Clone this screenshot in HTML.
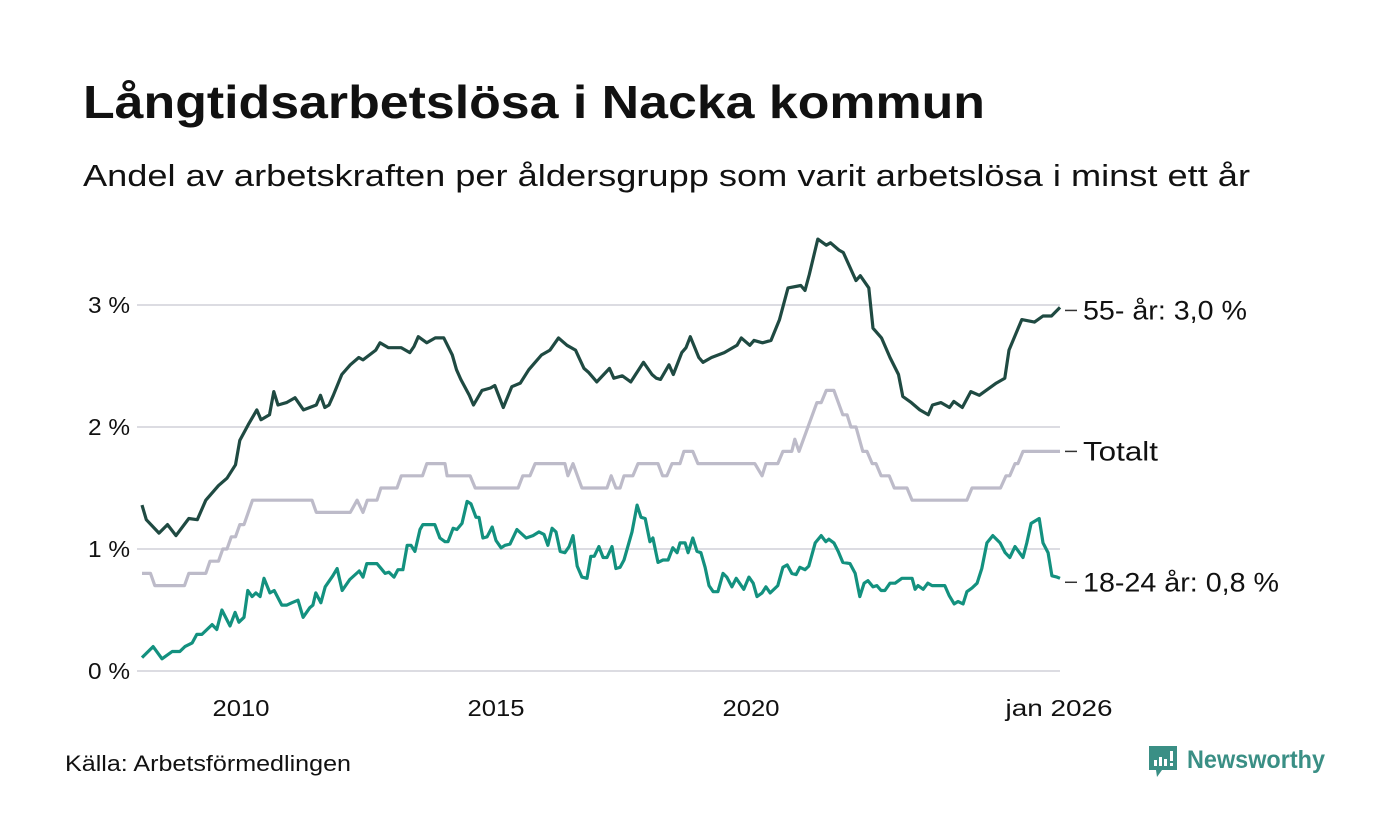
<!DOCTYPE html>
<html><head><meta charset="utf-8"><style>
html,body{margin:0;padding:0;background:#fff;}
svg{display:block;font-family:"Liberation Sans",sans-serif;}
</style></head><body>
<svg id="chart" width="1400" height="840" viewBox="0 0 1400 840">
<text x="83" y="118" font-size="46" font-weight="bold" fill="#111" textLength="902" lengthAdjust="spacingAndGlyphs">Långtidsarbetslösa i Nacka kommun</text>
<text x="83" y="186" font-size="31" fill="#111" textLength="1167" lengthAdjust="spacingAndGlyphs">Andel av arbetskraften per åldersgrupp som varit arbetslösa i minst ett år</text>
<g id="grid"></g>
<g id="yaxis"></g>
<g id="xaxis"></g>
<g id="series"></g>
<g id="labels"></g>
<text x="65" y="771" font-size="22" fill="#111" textLength="286" lengthAdjust="spacingAndGlyphs">Källa: Arbetsförmedlingen</text>
<g>
<path d="M1149 746 h28 v24 h-15 l-5 7 l-1 -7 h-7 z" fill="#3a8f85"/>
<rect x="1154" y="760" width="3" height="6" fill="#fff"/>
<rect x="1159" y="757" width="3" height="9" fill="#fff"/>
<rect x="1164" y="759" width="3" height="7" fill="#fff"/>
<rect x="1170" y="751" width="3" height="10" fill="#fff"/>
<rect x="1170" y="763" width="3" height="3" fill="#fff"/>
<text x="1187" y="768" font-size="25" font-weight="bold" fill="#3a8f85" textLength="138" lengthAdjust="spacingAndGlyphs">Newsworthy</text>
</g>
</svg>
<script>
const yTicks=[0,1,2,3];
const yTickLabels=["0 %","1 %","2 %","3 %"];
const xTickMonths=[24,84,144,216];
const xTickLabels=["2010","2015","2020","jan 2026"];
const m55=[0,1,4,6,8,11,13,15,18,20,22,23,25,27,28,30,31,32,34,36,38,41,42,43,44,45,47,49,51,52,55,56,58,61,63,64,65,67,69,71,73,74,75,77,78,80,82,83,85,87,89,91,92,94,96,98,100,102,104,105,107,110,111,113,115,118,120,121,122,124,125,127,128,129,131,132,134,137,140,141,143,144,146,148,150,152,155,156,157,159,161,162,164,165,168,169,171,172,174,176,178,179,181,183,185,186,188,190,191,193,195,197,201,203,204,207,210,212,214,216];
const v55=[1.36,1.24,1.13,1.20,1.11,1.25,1.24,1.40,1.52,1.58,1.69,1.89,2.02,2.14,2.06,2.10,2.29,2.18,2.20,2.24,2.14,2.18,2.26,2.16,2.18,2.26,2.43,2.51,2.57,2.55,2.63,2.69,2.65,2.65,2.61,2.66,2.74,2.69,2.73,2.73,2.59,2.47,2.39,2.26,2.18,2.30,2.32,2.34,2.16,2.33,2.36,2.47,2.51,2.59,2.63,2.73,2.67,2.63,2.48,2.45,2.37,2.48,2.40,2.42,2.37,2.53,2.43,2.40,2.39,2.51,2.43,2.61,2.65,2.74,2.57,2.53,2.57,2.61,2.67,2.73,2.67,2.71,2.69,2.71,2.88,3.14,3.16,3.12,3.25,3.54,3.49,3.51,3.45,3.43,3.20,3.24,3.14,2.81,2.73,2.57,2.43,2.25,2.20,2.14,2.10,2.18,2.20,2.16,2.21,2.16,2.29,2.26,2.36,2.40,2.63,2.88,2.86,2.91,2.91,2.98];
const mTot=[0,2,3,10,11,15,16,18,19,20,21,22,23,24,26,40,41,49,50.6,52,53,55.3,56.2,60,61,66,67,71.3,71.8,77.2,78.4,88.5,89.6,91.3,92.5,99.5,100.2,101.4,103.5,109.4,110.4,111.5,112.5,113.4,115.5,116.7,121.4,122.5,123.5,124.7,126.6,127.5,129.6,130.8,144.2,145.9,146.8,149.6,150.8,152.9,153.6,154.6,158.8,159.8,161,162.8,164.9,165.9,166.8,168,169.6,170.6,171.8,172.7,173.9,175.8,177,180,181.2,194.1,195.3,202,203.3,204.2,205.4,206.1,207.3,216];
const vTot=[0.8,0.8,0.7,0.7,0.8,0.8,0.9,0.9,1.0,1.0,1.1,1.1,1.2,1.2,1.4,1.4,1.3,1.3,1.4,1.3,1.4,1.4,1.5,1.5,1.6,1.6,1.7,1.7,1.6,1.6,1.5,1.5,1.6,1.6,1.7,1.7,1.6,1.7,1.5,1.5,1.6,1.5,1.5,1.6,1.6,1.7,1.7,1.6,1.6,1.7,1.7,1.8,1.8,1.7,1.7,1.6,1.7,1.7,1.8,1.8,1.9,1.8,2.2,2.2,2.3,2.3,2.1,2.1,2.0,2.0,1.8,1.8,1.7,1.7,1.6,1.6,1.5,1.5,1.4,1.4,1.5,1.5,1.6,1.6,1.7,1.7,1.8,1.8];
const m1824=[0,2.6,4.7,7.1,8.9,10.1,11.8,12.9,14.1,16.5,17.6,18.8,20.7,21.9,22.8,24,24.9,25.9,26.8,27.8,28.7,30.1,31.1,32.9,34.1,35.3,36.7,37.9,39.5,40.2,40.9,42.1,43.1,44.9,45.9,47.1,48.9,51.1,52,52.9,55.3,57.2,58.1,59.3,60.2,61.4,62.4,63.3,64.2,65.4,66.1,68.9,70.1,71.3,72,73.2,74.1,75.3,76.5,77.4,78.6,79.3,80.2,81.2,82.4,83.3,84.5,85.4,86.6,88.2,90.4,92,93.4,94.6,95.5,96.5,97.4,98.4,99.5,100.5,101.4,102.4,103.5,104.7,105.6,106.4,107.5,108.5,109.4,110.6,111.5,112.5,113.4,115.3,116.5,117.4,118.4,119.5,120.2,121.4,122.6,123.8,124.9,125.9,126.6,127.8,128.5,129.6,130.6,131.5,132.5,133.4,134.4,135.5,136.7,137.6,138.8,139.8,141.6,142.8,143.8,144.7,145.9,146.8,147.8,149.6,150.8,151.8,152.9,153.9,154.8,156,156.9,158.4,159.8,160.9,161.6,162.8,163.8,164.9,166.6,167.8,168.9,169.9,170.8,172,172.9,173.9,174.8,176,177.2,178.8,181.2,181.9,182.6,183.8,184.9,185.9,188.9,189.9,191.1,192,193.2,194.1,195.3,196.5,197.6,198.8,200.2,201.9,203.1,204.2,205.4,207.3,208.2,209.2,211.1,212,213.2,214.1,215.3,216];
const v1824=[0.11,0.20,0.10,0.16,0.16,0.20,0.23,0.30,0.30,0.38,0.34,0.50,0.37,0.48,0.40,0.44,0.66,0.61,0.64,0.61,0.76,0.64,0.66,0.54,0.54,0.56,0.58,0.44,0.52,0.54,0.64,0.56,0.69,0.78,0.84,0.66,0.75,0.82,0.77,0.88,0.88,0.80,0.81,0.77,0.83,0.83,1.03,1.03,0.98,1.16,1.20,1.20,1.09,1.06,1.06,1.17,1.16,1.21,1.39,1.37,1.26,1.26,1.09,1.10,1.18,1.07,1.01,1.03,1.04,1.16,1.09,1.11,1.14,1.12,1.03,1.17,1.14,0.98,0.97,1.02,1.11,0.86,0.77,0.76,0.94,0.94,1.02,0.93,0.93,1.02,0.84,0.85,0.91,1.14,1.36,1.26,1.25,1.06,1.09,0.89,0.91,0.91,1.01,0.97,1.05,1.05,0.97,1.09,0.98,0.97,0.85,0.70,0.65,0.65,0.80,0.77,0.69,0.76,0.67,0.77,0.72,0.61,0.64,0.69,0.64,0.70,0.85,0.87,0.80,0.79,0.85,0.83,0.86,1.05,1.11,1.06,1.08,1.05,0.98,0.89,0.88,0.80,0.61,0.72,0.74,0.69,0.70,0.66,0.66,0.72,0.72,0.76,0.76,0.67,0.70,0.67,0.72,0.70,0.70,0.62,0.55,0.57,0.55,0.65,0.68,0.72,0.84,1.05,1.11,1.05,0.97,0.93,1.02,0.93,1.05,1.21,1.25,1.05,0.97,0.78,0.77,0.76];
const seriesNames=["55- år: 3,0 %","Totalt","18-24 år: 0,8 %"];
const seriesLabelWidths=[164,75,196];

const NS="http://www.w3.org/2000/svg";
function xs(m){return 142+m*(918/216);}
function ys(v){return 671-v*122;}
function mk(tag,attrs,parent){const e=document.createElementNS(NS,tag);for(const k in attrs)e.setAttribute(k,attrs[k]);parent.appendChild(e);return e;}
const grid=document.getElementById('grid'),ya=document.getElementById('yaxis'),xa=document.getElementById('xaxis'),ser=document.getElementById('series'),lab=document.getElementById('labels');
yTicks.forEach((t,i)=>{
  const l=mk('line',{x1:137,x2:1060,y1:ys(t),y2:ys(t),stroke:'#dcdce2','stroke-width':2},grid);
  
  
  const tx=mk('text',{x:130,y:ys(t)+8,'font-size':23,fill:'#111','text-anchor':'end',textLength:42,lengthAdjust:'spacingAndGlyphs'},ya);
  tx.textContent=yTickLabels[i];
  
  
});
xTickMonths.forEach((m,i)=>{
  const w=i==3?107:57;
  const tx=mk('text',{x:xs(m)-(i==3?1:3),y:716,'font-size':23,fill:'#111','text-anchor':'middle',textLength:w,lengthAdjust:'spacingAndGlyphs'},xa);
  tx.textContent=xTickLabels[i];
  
  
});
function drawLine(ms,vs,color,name){
  const d=ms.map((m,i)=>(i?'L':'M')+xs(m).toFixed(1)+' '+ys(vs[i]).toFixed(1)).join(' ');
  const p=mk('path',{d:d,fill:'none',stroke:color,'stroke-width':3.2,'stroke-linejoin':'round'},ser);
  
  
}
drawLine(mTot,vTot,'#bdbbc9','line-totalt');
drawLine(m1824,v1824,'#13917f','line-18-24');
drawLine(m55,v55,'#1f4a42','line-55-plus');
const ends=[v55[v55.length-1],vTot[vTot.length-1],v1824[v1824.length-1]];
ends.forEach((v,i)=>{
  const y=ys(v)+(i==0?3:i==2?4:0);
  const l=mk('line',{x1:1065,x2:1077,y1:y,y2:y,stroke:'#333','stroke-width':1.5},lab);
  
  
  const t=mk('text',{x:1083,y:y+9,'font-size':27,fill:'#111',textLength:seriesLabelWidths[i],lengthAdjust:'spacingAndGlyphs'},lab);
  t.textContent=seriesNames[i];
  
  
});
</script>
</body></html>
